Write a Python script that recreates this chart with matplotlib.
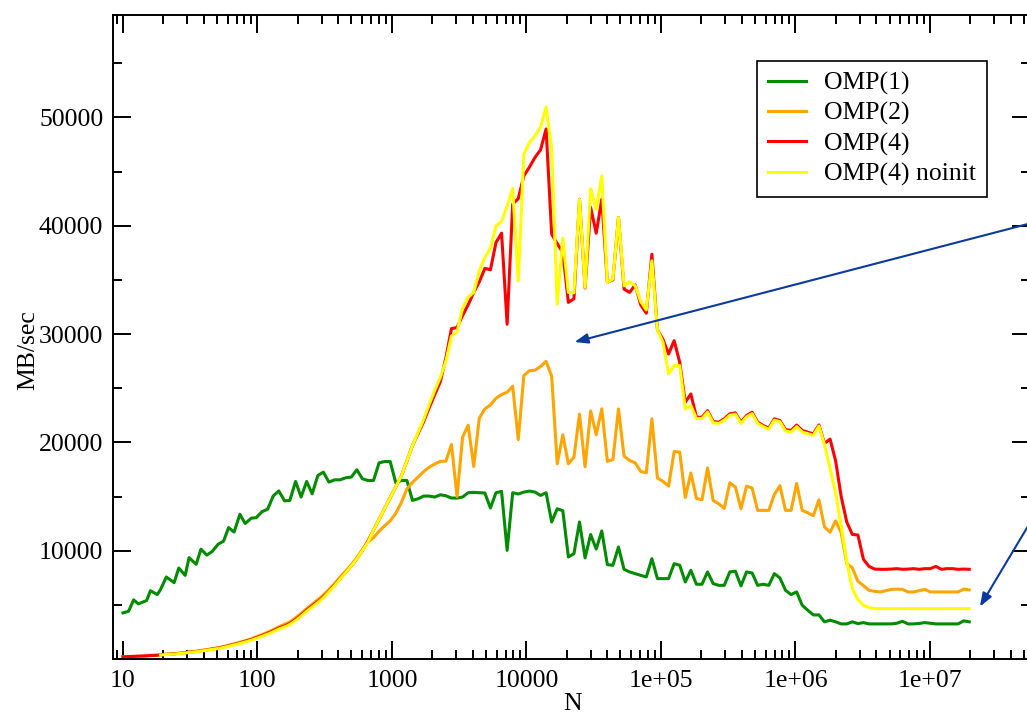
import numpy as np
import matplotlib
matplotlib.use("Agg")
import matplotlib.pyplot as plt
from matplotlib.ticker import LogLocator, NullFormatter, MultipleLocator

# problem size N (geometric grid, ~factor 1.1)
N = [10, 11, 12, 13, 15, 16, 18, 19, 21, 24,
     26, 29, 31, 35, 38, 42, 46, 51, 56, 61,
     67, 74, 81, 90, 98, 108, 119, 131, 144, 159,
     174, 192, 211, 232, 255, 281, 309, 340, 374, 411,
     453, 498, 548, 602, 663, 729, 802, 882, 970, 1067,
     1174, 1291, 1420, 1562, 1719, 1891, 2080, 2288, 2516, 2768,
     3045, 3349, 3684, 4053, 4458, 4904, 5394, 5933, 6527, 7180,
     7897, 8687, 9556, 10512, 11563, 12719, 13991, 15390, 16929, 18622,
     20484, 22532, 24786, 27264, 29991, 32990, 36289, 39918, 43909, 48300,
     53130, 58443, 64288, 70716, 77788, 85567, 94123, 103536, 113889, 125278,
     137806, 151586, 166745, 183420, 201762, 221938, 244132, 268545, 295399, 324939,
     357433, 393177, 432494, 475744, 523318, 575650, 633215, 696536, 766190, 842809,
     927090, 1019799, 1121779, 1233957, 1357352, 1493088, 1642396, 1806636, 1987300, 2186030,
     2404633, 2645096, 2909606, 3200566, 3520623, 3872685, 4259954, 4685949, 5154544, 5669999,
     6236999, 6860699, 7546768, 8301445, 9131590, 10044749, 11049224, 12154146, 13369561, 14706517,
     16177169, 17794886, 19574374]

omp1 = [4260, 4400, 5460, 5090, 5400, 6300, 5950, 6400, 7570, 7050,
        8400, 7720, 9360, 8740, 10140, 9590, 9920, 10600, 10890, 12130,
        11720, 13360, 12510, 13000, 13050, 13600, 13830, 15050, 15520, 14600,
        14640, 16390, 14950, 16390, 15250, 16940, 17250, 16330, 16540, 16540,
        16730, 16790, 17470, 16640, 16480, 16480, 18110, 18230, 18230, 16270,
        16480, 16480, 14640, 14790, 15040, 15040, 14950, 15160, 15070, 14860,
        14860, 14950, 15350, 15380, 15350, 15320, 13940, 15350, 15470, 10030,
        15350, 15230, 15410, 15500, 15410, 15100, 15350, 12650, 13870, 13690,
        9420, 9720, 12650, 9330, 11490, 10150, 11820, 8710, 8650, 10340,
        8280, 8040, 7880, 7720, 7580, 9260, 7420, 7420, 7420, 8800,
        8650, 7110, 8190, 6900, 6900, 8040, 6960, 6800, 6800, 8040,
        8100, 6750, 8040, 7940, 6800, 6900, 6800, 7880, 7480, 6340,
        5950, 6190, 4960, 4500, 4070, 4070, 3430, 3580, 3430, 3240,
        3240, 3430, 3270, 3360, 3240, 3240, 3240, 3240, 3240, 3300,
        3480, 3240, 3240, 3280, 3360, 3300, 3240, 3240, 3240, 3240,
        3240, 3520, 3430]

omp2 = [200, 220, 245, 265, 290, 320, 350, 400, 440, 480,
        535, 590, 650, 715, 790, 860, 955, 1050, 1150, 1270,
        1400, 1540, 1690, 1860, 2050, 2250, 2470, 2710, 2970, 3200,
        3420, 3800, 4200, 4650, 5050, 5480, 5900, 6420, 6950, 7550,
        8120, 8700, 9350, 10100, 10800, 11200, 11800, 12300, 12750, 13450,
        14450, 15700, 16300, 16800, 17300, 17700, 18000, 18250, 18250, 19800,
        15000, 20480, 21580, 17780, 22230, 23090, 23460, 24070, 24410, 24630,
        25180, 20250, 26160, 26620, 26650, 27000, 27480, 26100, 18020, 20690,
        18020, 18630, 22600, 17750, 22900, 20700, 23100, 18250, 18420, 23090,
        18730, 18320, 18110, 17310, 17190, 22170, 16700, 16390, 15960, 19150,
        19100, 14900, 17170, 14820, 14690, 17640, 14640, 14330, 13900, 16270,
        15870, 13870, 15960, 15780, 13720, 13720, 13720, 15200, 16000, 13720,
        13720, 16200, 13720, 13500, 13230, 14690, 12190, 11700, 12750, 11650,
        8800, 8420, 7180, 6780, 6340, 6250, 6190, 6300, 6430, 6450,
        6430, 6190, 6190, 6300, 6430, 6190, 6190, 6190, 6190, 6190,
        6190, 6450, 6380]

omp4 = [200, 220, 245, 265, 290, 320, 350, 390, 430, 470,
        520, 570, 630, 690, 760, 830, 920, 1010, 1110, 1220,
        1350, 1480, 1630, 1790, 1970, 2160, 2370, 2600, 2850, 3050,
        3270, 3650, 4050, 4500, 4900, 5300, 5730, 6250, 6800, 7420,
        8000, 8600, 9260, 10000, 10900, 11900, 12900, 13900, 14900, 15900,
        16900, 18300, 19700, 20800, 21900, 23200, 24400, 25600, 27800, 30500,
        30600, 31700, 32700, 33840, 34820, 36060, 35930, 38450, 39310, 30900,
        41990, 42500, 44600, 45400, 46300, 47000, 48930, 39220, 38350, 37530,
        32920, 33260, 42440, 34250, 41700, 39300, 42440, 34780, 35000, 40760,
        34150, 33840, 34530, 32690, 31920, 37370, 30380, 29500, 28160, 29390,
        27390, 23710, 24470, 22320, 22320, 22930, 21920, 21860, 22170, 22630,
        22720, 21860, 22470, 22780, 21860, 21550, 21310, 22170, 22010, 21180,
        21090, 21600, 21090, 20940, 20780, 21610, 19900, 20300, 18300, 15000,
        12650, 11500, 11450, 9200, 8550, 8300, 8280, 8280, 8300, 8340,
        8280, 8300, 8340, 8280, 8340, 8340, 8550, 8280, 8340, 8340,
        8280, 8300, 8280]

omp4_noinit = [None, None, None, None, None, None, None, 370, 410, 450,
               500, 550, 605, 665, 730, 800, 885, 970, 1070, 1175,
               1300, 1430, 1570, 1730, 1900, 2090, 2290, 2520, 2760, 2960,
               3180, 3550, 3950, 4400, 4800, 5200, 5650, 6200, 6750, 7380,
               7980, 8600, 9260, 10000, 10800, 11900, 12900, 13900, 14900, 15900,
               16900, 18300, 19700, 20900, 22100, 23500, 24800, 26000, 27500, 29800,
               30200, 32400, 33400, 33840, 35840, 37070, 37900, 39980, 40400, 41800,
               43450, 34910, 46590, 47670, 48280, 49100, 50950, 47100, 32770, 38850,
               33840, 33810, 42440, 34300, 43400, 41520, 44590, 34760, 35070, 40760,
               34450, 34820, 34450, 33000, 32230, 36760, 30380, 29230, 26320, 27080,
               27080, 23090, 23390, 22200, 22200, 22800, 21800, 21750, 22050, 22500,
               22600, 21750, 22350, 22650, 21750, 21450, 21200, 22050, 21900, 21050,
               20950, 21450, 20950, 20800, 20650, 21500, 19800, 17600, 15300, 12300,
               9000, 6500, 5500, 4960, 4750, 4650, 4650, 4650, 4650, 4650,
               4650, 4650, 4650, 4650, 4650, 4650, 4650, 4650, 4650, 4650,
               4650, 4650, 4650]

xticks = [10, 100, 1000, 10000, 1e5, 1e6, 1e7]
xtick_labels = ["10", "100", "1000", "10000", "1e+05", "1e+06", "1e+07"]
yticks = [10000, 20000, 30000, 40000, 50000]
ytick_labels = ["10000", "20000", "30000", "40000", "50000"]

plt.rcParams['font.family'] = ['Liberation Serif', 'DejaVu Serif']
fs = 18.5

fig = plt.figure(figsize=(10.27, 7.15), dpi=100)
# axes run past the right edge of the picture, as in the original crop
ax = fig.add_axes([113 / 1027, 56 / 715, 917 / 1027, 644 / 715])

ax.plot(N, omp1, color="#008b00", lw=2.2, label="OMP(1)")
ax.plot(N, omp2, color="#ffa500", lw=2.2, label="OMP(2)")
ax.plot(N, omp4, color="#ff0000", lw=2.2, label="OMP(4)")
ax.plot(N, np.array(omp4_noinit, dtype=float), color="#ffff00", lw=2.2,
        label="OMP(4) noinit")

ax.set_xscale("log")
ax.set_xlim(8.43, 5.54e7)
ax.set_ylim(0, 59450)

ax.set_xticks(xticks)
ax.set_xticklabels(xtick_labels)
ax.xaxis.set_minor_locator(LogLocator(base=10, subs=range(2, 10), numticks=20))
ax.xaxis.set_minor_formatter(NullFormatter())
ax.set_yticks(yticks)
ax.set_yticklabels(ytick_labels)
ax.yaxis.set_minor_locator(MultipleLocator(5000))

ax.tick_params(which="both", direction="in", top=True, right=True,
               width=1.4, labelsize=fs)
ax.tick_params(which="major", length=13)
ax.tick_params(which="minor", length=6.5)
ax.tick_params(axis="x", pad=8)
ax.tick_params(axis="y", pad=7)
for s in ax.spines.values():
    s.set_linewidth(1.4)

ax.set_xlabel("N", fontsize=fs)
ax.set_ylabel("MB/sec", fontsize=fs)
ax.xaxis.set_label_coords(0.5016, -0.053)
ax.yaxis.set_label_coords(-0.080, 0.48)

leg = ax.legend(loc="upper left", bbox_to_anchor=(0.702, 0.929), fontsize=fs,
                frameon=True, fancybox=False, framealpha=1, edgecolor="black",
                handlelength=1.5, handletextpad=0.7, labelspacing=0.27,
                borderpad=0.42, borderaxespad=0)
leg.get_frame().set_linewidth(1.2)

arrow = dict(arrowstyle="-|>,head_length=0.8,head_width=0.3", color="#0b3a9c",
             lw=1.5, shrinkA=0, shrinkB=0, mutation_scale=10)
ax.annotate("", xy=(22750, 29260), xytext=(7.8e7, 40690),
            arrowprops=arrow, annotation_clip=False)
ax.annotate("", xy=(2.35e7, 4840), xytext=(7.8e7, 15660),
            arrowprops=arrow, annotation_clip=False)

fig.savefig("out.png", dpi=100)
